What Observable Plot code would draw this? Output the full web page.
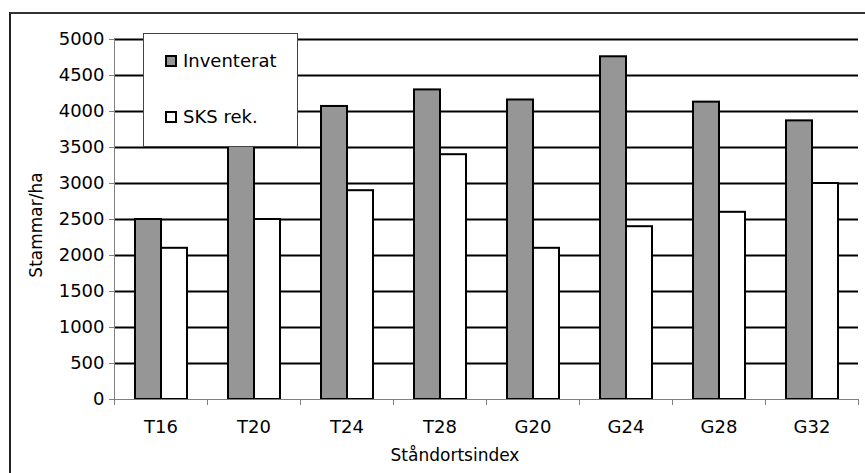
<!DOCTYPE html>
<html>
<head>
<meta charset="utf-8">
<script src="https://cdn.jsdelivr.net/npm/d3@7"></script>
<script src="https://cdn.jsdelivr.net/npm/@observablehq/plot@0.6"></script>
<style>
  html, body { margin: 0; padding: 0; background: #fff; }
  #wrap { position: relative; width: 865px; height: 473px; overflow: hidden; font-family: "DejaVu Sans", Verdana, sans-serif; }
  #outer { position: absolute; left: 9px; top: 12px; width: 900px; height: 500px; border-left: 2px solid #222; border-top: 2px solid #333; box-sizing: border-box; pointer-events: none; }
  #legend { position: absolute; left: 143px; top: 33px; width: 155px; height: 114px; background: #fff; border: 1px solid #444; box-sizing: border-box; }
  .item { position: absolute; left: 21px; display: flex; align-items: center; font-size: 18px; line-height: 20px; color: #000; }
  .sw { width: 12px; height: 12px; border: 2px solid #000; box-sizing: border-box; margin-right: 6px; }
  .title { position: absolute; font-size: 17px; color: #000; white-space: nowrap; line-height: 20px; }
  #ytitle { left: 36px; top: 225px; transform: translate(-50%, -50%) rotate(-90deg); }
  #xtitle { left: 455px; top: 455px; transform: translate(-50%, -50%); }
</style>
</head>
<body>
<div id="wrap">
  <div id="chart"></div>
  <div id="outer"></div>
  <div id="legend"></div>
  <div class="title" id="ytitle"></div>
  <div class="title" id="xtitle"></div>
</div>
<script>
const categories = ["T16", "T20", "T24", "T28", "G20", "G24", "G28", "G32"];
const series = ["Inventerat", "SKS rek."];
const inventerat = [2500, 3900, 4070, 4300, 4160, 4760, 4130, 3870];
const sksRek = [2100, 2500, 2900, 3400, 2100, 2400, 2600, 3000];
const yTicks = [0, 500, 1000, 1500, 2000, 2500, 3000, 3500, 4000, 4500, 5000];
const colors = ["#969696", "#ffffff"];
const xTitle = "Ståndortsindex";
const yTitle = "Stammar/ha";

const data = [];
categories.forEach((c, i) => {
  data.push({cat: c, series: series[0], value: inventerat[i]});
  data.push({cat: c, series: series[1], value: sksRek[i]});
});

const chart = Plot.plot({
  width: 865,
  height: 473,
  marginLeft: 111,
  marginRight: 5,
  marginTop: 39,
  marginBottom: 74,
  style: {fontFamily: "DejaVu Sans, Verdana, sans-serif", fontSize: "18px", background: "transparent", color: "#000"},
  fx: {domain: categories, padding: 0, label: null, axis: null},
  x: {domain: series, paddingInner: 0, paddingOuter: 0.753, axis: null},
  y: {domain: [0, 5000], axis: null},
  color: {domain: series, range: colors},
  marks: [
    Plot.ruleY(yTicks.filter(d => d > 0), {stroke: "#000", strokeWidth: 2.2}),
    Plot.barY(data, {fx: "cat", x: "series", y: "value", fill: "series", stroke: "#000", strokeWidth: 2}),
    Plot.ruleY([0], {stroke: "#808080", strokeWidth: 1}),
    Plot.frame({anchor: "left", stroke: "#808080", insetTop: 360, insetBottom: -5}),
    Plot.frame({anchor: "right", stroke: "#808080", insetTop: 360, insetBottom: -5}),
    Plot.frame({facet: "super", anchor: "left", stroke: "#808080"}),
    Plot.axisY({ticks: yTicks, tickSize: 5, tickPadding: 5, tickFormat: d => String(d), stroke: "#808080", fontSize: 18, label: null}),
    Plot.axisFx({anchor: "bottom", tickSize: 0, tickPadding: 21, fontSize: 18, label: null})
  ]
});
document.getElementById("chart").appendChild(chart);

document.getElementById("ytitle").textContent = yTitle;
document.getElementById("xtitle").textContent = xTitle;

const legend = document.getElementById("legend");
series.forEach((s, i) => {
  const it = document.createElement("div");
  it.className = "item";
  it.style.top = (i === 0 ? 17 : 73) + "px";
  const sw = document.createElement("div");
  sw.className = "sw";
  sw.style.background = colors[i];
  const tx = document.createElement("span");
  tx.textContent = s;
  it.appendChild(sw);
  it.appendChild(tx);
  legend.appendChild(it);
});
</script>
</body>
</html>
